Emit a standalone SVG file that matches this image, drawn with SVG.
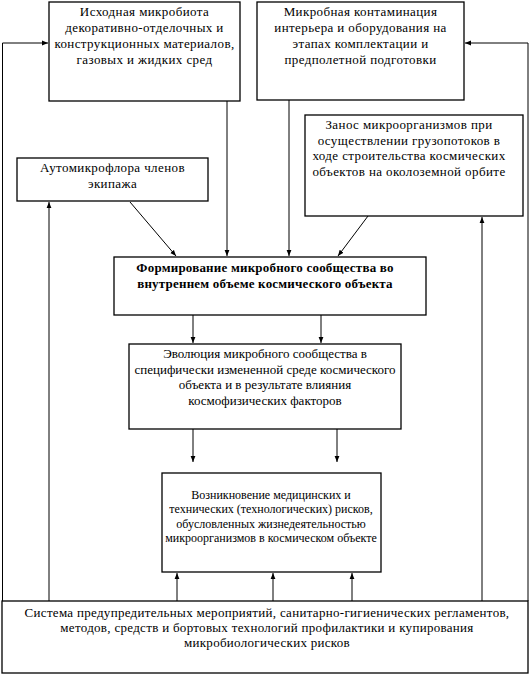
<svg xmlns="http://www.w3.org/2000/svg" width="530" height="674" viewBox="0 0 530 674">
<defs>
<style>
.box{fill:#fff;stroke:#000;stroke-width:1.3}
.t{font-family:"Liberation Serif","Times New Roman","DejaVu Serif",serif;font-size:13px;fill:#000;text-anchor:middle;letter-spacing:0.4px}
.b{font-weight:bold;letter-spacing:0.2px}
.n{letter-spacing:0}
.s{font-size:12px;letter-spacing:0}
.w{letter-spacing:0.3px}
.c{fill:none;stroke:#000;stroke-width:1}
</style>
<marker id="ah" viewBox="0 0 10 10" refX="10" refY="5" markerWidth="6" markerHeight="6" orient="auto" markerUnits="userSpaceOnUse">
<path d="M0,1 L10,5 L0,9 Z" fill="#000"/>
</marker>
</defs>
<rect width="530" height="674" fill="#fff"/>
<g id="connectors">
<polyline class="c" points="2.5,601 2.5,43 48,43" marker-end="url(#ah)"/>
<polyline class="c" points="528,601 528,43 465,43" marker-end="url(#ah)"/>
<line class="c" x1="227" y1="101" x2="227" y2="256" marker-end="url(#ah)"/>
<line class="c" x1="289" y1="100" x2="289" y2="256" marker-end="url(#ah)"/>
<line class="c" x1="130" y1="202" x2="176" y2="256" marker-end="url(#ah)"/>
<line class="c" x1="368" y1="216" x2="338" y2="256" marker-end="url(#ah)"/>
<line class="c" x1="49" y1="601" x2="49" y2="202" marker-end="url(#ah)"/>
<line class="c" x1="482" y1="601" x2="482" y2="217" marker-end="url(#ah)"/>
<line class="c" x1="193" y1="315" x2="193" y2="343" marker-end="url(#ah)"/>
<line class="c" x1="321" y1="315" x2="321" y2="343" marker-end="url(#ah)"/>
<line class="c" x1="193" y1="429" x2="193" y2="462" marker-end="url(#ah)"/>
<line class="c" x1="337" y1="429" x2="337" y2="462" marker-end="url(#ah)"/>
<line class="c" x1="177" y1="601" x2="177" y2="573" marker-end="url(#ah)"/>
<line class="c" x1="273" y1="601" x2="273" y2="573" marker-end="url(#ah)"/>
<line class="c" x1="352" y1="601" x2="352" y2="573" marker-end="url(#ah)"/>
</g>
<g id="n1">
<rect class="box" x="49" y="2" width="191" height="99"/>
<text class="t" x="144.5" y="16">Исходная микробиота</text>
<text class="t" x="144.5" y="32">декоративно-отделочных и</text>
<text class="t" x="144.5" y="48">конструкционных материалов,</text>
<text class="t" x="144.5" y="64">газовых и жидких сред</text>
</g>
<g id="n2">
<rect class="box" x="257" y="2" width="207" height="98"/>
<text class="t" x="360.5" y="16">Микробная контаминация</text>
<text class="t" x="360.5" y="32">интерьера и оборудования на</text>
<text class="t" x="360.5" y="48">этапах комплектации и</text>
<text class="t" x="360.5" y="64">предполетной подготовки</text>
</g>
<g id="n3">
<rect class="box" x="17" y="158" width="191" height="43"/>
<text class="t" x="112.5" y="172">Аутомикрофлора членов</text>
<text class="t" x="112.5" y="188">экипажа</text>
</g>
<g id="n4">
<rect class="box" x="305" y="115" width="218" height="101"/>
<text class="t" x="409" y="129">Занос микроорганизмов при</text>
<text class="t" x="409" y="145">осуществлении грузопотоков в</text>
<text class="t" x="409" y="160">ходе строительства космических</text>
<text class="t" x="409" y="176">объектов на околоземной орбите</text>
</g>
<g id="n5">
<rect class="box" x="114" y="257" width="312" height="58"/>
<text class="t b" x="265" y="272">Формирование микробного сообщества во</text>
<text class="t b" x="265" y="288">внутреннем  объеме космического объекта</text>
</g>
<g id="n6">
<rect class="box" x="129" y="344" width="272" height="85"/>
<text class="t n" x="265" y="358">Эволюция микробного сообщества в</text>
<text class="t n" x="265" y="374">специфически измененной среде космического</text>
<text class="t n" x="265" y="389">объекта и в результате влияния</text>
<text class="t n" x="265" y="405">космофизических  факторов</text>
</g>
<g id="n7">
<rect class="box" x="162" y="473" width="219" height="99"/>
<text class="t s" x="271" y="499">Возникновение медицинских и</text>
<text class="t s" x="271" y="513">технических (технологических) рисков,</text>
<text class="t s" x="271" y="528">обусловленных жизнедеятельностью</text>
<text class="t s" x="271" y="542">микроорганизмов в космическом объекте</text>
</g>
<g id="n8">
<rect class="box" x="2" y="601" width="526" height="72"/>
<text class="t w" x="267" y="617">Система предупредительных мероприятий, санитарно-гигиенических регламентов,</text>
<text class="t w" x="267" y="632">методов, средств и бортовых технологий профилактики и купирования</text>
<text class="t w" x="267" y="647">микробиологических рисков</text>
</g>
</svg>
